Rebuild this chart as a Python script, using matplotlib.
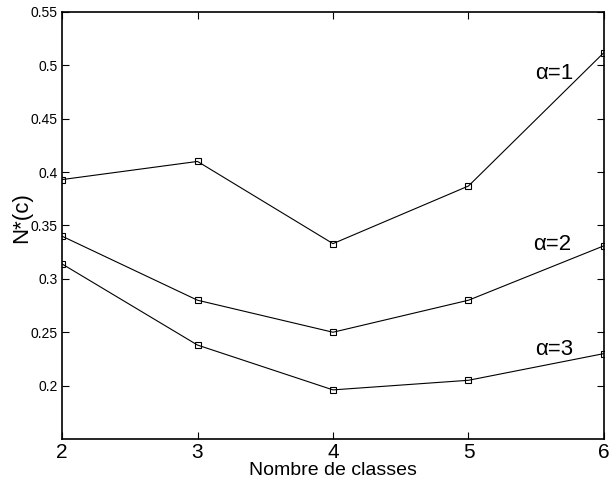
import matplotlib.pyplot as plt

plt.rcParams['font.family'] = ['Liberation Sans', 'DejaVu Sans']

classes = [2, 3, 4, 5, 6]
n_alpha1 = [0.393, 0.410, 0.333, 0.387, 0.512]
n_alpha2 = [0.340, 0.280, 0.250, 0.280, 0.331]
n_alpha3 = [0.314, 0.238, 0.196, 0.205, 0.230]

fig = plt.figure(figsize=(6.11, 4.79), dpi=100)
ax = fig.add_axes([0.1015, 0.0835, 0.887, 0.8915])

for vals in (n_alpha1, n_alpha2, n_alpha3):
    ax.plot(classes, vals, color='black', linewidth=0.8, marker='s',
            markersize=5, markerfacecolor='none', markeredgewidth=0.8)

# curve labels, upright alpha
ax.text(5.49, 0.487, '\u03b1=1', fontsize=16)
ax.text(5.476, 0.327, '\u03b1=2', fontsize=16)
ax.text(5.49, 0.2287, '\u03b1=3', fontsize=16)

ax.set_xlim(2, 6)
ax.set_ylim(0.15, 0.55)
ax.set_xticks(classes)
ax.set_yticks([0.2, 0.25, 0.3, 0.35, 0.4, 0.45, 0.5, 0.55])
ax.set_yticklabels(['0.2', '0.25', '0.3', '0.35', '0.4', '0.45', '0.5', '0.55'])
ax.tick_params(axis='x', direction='in', top=True, labelsize=15, length=5, pad=3)
ax.tick_params(axis='y', direction='in', right=True, labelsize=10, length=5, pad=3)
for s in ax.spines.values():
    s.set_linewidth(1.2)

ax.set_xlabel('Nombre de classes', fontsize=14)
ax.xaxis.set_label_coords(0.5, -0.054)
ax.set_ylabel('N*(c)', fontsize=16)
ax.yaxis.set_label_coords(-0.055, 0.518)

fig.savefig('out.png', dpi=100)
